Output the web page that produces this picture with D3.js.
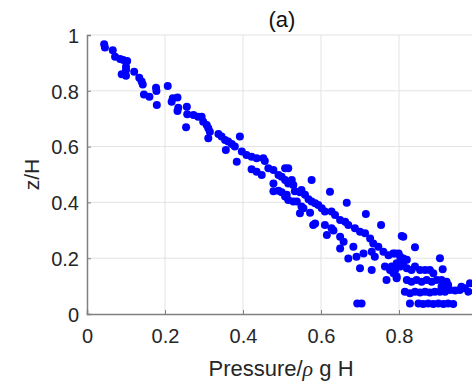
<!DOCTYPE html>
<html>
<head>
<meta charset="utf-8">
<script src="https://cdn.jsdelivr.net/npm/d3@7"></script>
<style>
  html, body { margin: 0; padding: 0; background: #fff; }
  svg { display: block; font-family: "Liberation Sans", Arial, sans-serif; }
</style>
</head>
<body>
<div id="chart"></div>
<script>
// tick values
const xTicks = [0, 0.2, 0.4, 0.6, 0.8, 1];
const yTicks = [0, 0.2, 0.4, 0.6, 0.8, 1];

// scatter points: [pressure/(rho g H), z/H]
const pressure = [
  0.044, 0.046, 0.066, 0.072, 0.085, 0.093, 0.103, 0.100, 0.100, 0.089, 0.100, 0.121, 0.134, 0.140, 0.143,
  0.146, 0.160, 0.177, 0.178, 0.207, 0.179, 0.220, 0.232, 0.217, 0.234, 0.232, 0.256, 0.257,
  0.273, 0.254, 0.285, 0.294, 0.298, 0.307, 0.311, 0.315, 0.311, 0.337, 0.345, 0.354, 0.362, 0.371, 0.379,
  0.392, 0.356, 0.384, 0.397, 0.409, 0.422, 0.435, 0.452, 0.422, 0.435, 0.448, 0.465, 0.478,
  0.456, 0.491, 0.499, 0.508, 0.516, 0.508, 0.516, 0.525, 0.529, 0.478, 0.491, 0.512, 0.529, 0.538,
  0.550, 0.559, 0.568, 0.576, 0.585, 0.593, 0.576, 0.623, 0.666, 0.555, 0.546, 0.572, 0.580,
  0.602, 0.610, 0.627, 0.636, 0.649, 0.662, 0.670, 0.610, 0.627,
  0.478, 0.499, 0.533, 0.546, 0.508, 0.516, 0.550, 0.585,
  0.715, 0.754, 0.632, 0.615, 0.649, 0.658, 0.649, 0.683, 0.709, 0.691, 0.670,
  0.687, 0.700, 0.713, 0.726, 0.734, 0.747, 0.760, 0.773, 0.785, 0.730,
  0.738, 0.700, 0.730, 0.768, 0.693, 0.704, 0.764, 0.777, 0.786, 0.794,
  0.807, 0.811, 0.841, 0.790, 0.799, 0.803, 0.811, 0.820, 0.781, 0.794, 0.790, 0.803, 0.811, 0.820,
  0.832, 0.841, 0.854, 0.867, 0.879, 0.888, 0.905, 0.912,
  0.794, 0.820, 0.832, 0.845, 0.858, 0.871, 0.884, 0.897, 0.909, 0.922, 0.926,
  0.815, 0.828, 0.841, 0.854, 0.867, 0.879, 0.892, 0.905, 0.918, 0.931, 0.944, 0.956, 0.969, 0.978,
  0.828, 0.850, 0.862, 0.875, 0.888, 0.901, 0.914, 0.926, 0.939,
  0.909, 0.922, 0.960, 0.982
];
const depth = [
  0.967, 0.955, 0.945, 0.922, 0.914, 0.910, 0.907, 0.886, 0.875, 0.859, 0.854, 0.868, 0.847, 0.833, 0.823,
  0.787, 0.779, 0.811, 0.799, 0.817, 0.749, 0.773, 0.776, 0.761, 0.739, 0.728, 0.743, 0.716,
  0.713, 0.669, 0.707, 0.707, 0.689, 0.677, 0.666, 0.653, 0.630, 0.645, 0.636, 0.624, 0.618, 0.609, 0.600,
  0.636, 0.588, 0.546, 0.582, 0.570, 0.564, 0.558, 0.558, 0.519, 0.510, 0.498, 0.522, 0.516,
  0.548, 0.498, 0.492, 0.480, 0.468, 0.522, 0.522, 0.480, 0.462, 0.468, 0.442, 0.427, 0.403, 0.403,
  0.444, 0.427, 0.411, 0.403, 0.397, 0.391, 0.480, 0.438, 0.399, 0.379, 0.361, 0.363, 0.319,
  0.379, 0.367, 0.367, 0.355, 0.337, 0.331, 0.319, 0.319, 0.307,
  0.440, 0.436, 0.440, 0.436, 0.421, 0.409, 0.385, 0.324,
  0.358, 0.319, 0.299, 0.283, 0.277, 0.259, 0.235, 0.241, 0.217, 0.205, 0.199,
  0.307, 0.295, 0.289, 0.271, 0.253, 0.241, 0.223, 0.211, 0.217, 0.223,
  0.205, 0.164, 0.158, 0.122, 0.038, 0.038, 0.170, 0.158, 0.146, 0.134,
  0.280, 0.277, 0.239, 0.217, 0.217, 0.205, 0.199, 0.194, 0.170, 0.182, 0.158, 0.170, 0.182, 0.164,
  0.158, 0.170, 0.158, 0.158, 0.158, 0.146, 0.200, 0.160,
  0.128, 0.122, 0.116, 0.122, 0.116, 0.122, 0.116, 0.122, 0.122, 0.116, 0.104,
  0.080, 0.074, 0.080, 0.077, 0.080, 0.077, 0.080, 0.080, 0.080, 0.086, 0.084, 0.086, 0.092, 0.080,
  0.038, 0.038, 0.036, 0.038, 0.036, 0.038, 0.036, 0.038, 0.036,
  0.098, 0.092, 0.098, 0.110
];

const width = 472, height = 386;
const margin = { top: 35, left: 87 };
const plotW = 390, plotH = 279;

const svg = d3.select('#chart').append('svg')
  .attr('width', width)
  .attr('height', height);

const x = d3.scaleLinear().domain([0, 1]).range([margin.left, margin.left + plotW]);
const y = d3.scaleLinear().domain([0, 1]).range([margin.top + plotH, margin.top]);

// grid
svg.append('g')
  .selectAll('line.vg')
  .data(xTicks.slice(1))
  .enter().append('line')
  .attr('x1', d => x(d)).attr('x2', d => x(d))
  .attr('y1', y(0)).attr('y2', y(1))
  .attr('stroke', '#e3e3e3').attr('stroke-width', 1);

svg.append('g')
  .selectAll('line.hg')
  .data(yTicks.slice(1))
  .enter().append('line')
  .attr('x1', x(0)).attr('x2', x(1))
  .attr('y1', d => y(d)).attr('y2', d => y(d))
  .attr('stroke', '#e3e3e3').attr('stroke-width', 1);

// axes
const xAxis = d3.axisBottom(x).tickValues(xTicks.slice(0, 5)).tickSize(-4).tickPadding(15)
  .tickFormat(d => d === 0 ? '0' : d3.format('.1f')(d));
const yAxis = d3.axisLeft(y).tickValues(yTicks).tickSize(-4).tickPadding(8)
  .tickFormat(d => (d === 0 || d === 1) ? String(d) : d3.format('.1f')(d));

const gx = svg.append('g').attr('transform', `translate(0,${y(0)})`).call(xAxis);
const gy = svg.append('g').attr('transform', `translate(${x(0)},0)`).call(yAxis);

[gx, gy].forEach(g => {
  g.select('.domain').attr('stroke', '#808080').attr('stroke-width', 1.5);
  g.selectAll('.tick line').attr('stroke', '#808080');
  g.selectAll('.tick text')
    .attr('fill', '#262626')
    .style('font-size', '20px')
    .style('font-family', '"Liberation Sans", Arial, sans-serif');
});
gy.selectAll('.tick text').attr('dy', '0.36em');

// points
const pts = pressure.map((p, i) => ({ p: p, z: depth[i] }));
svg.append('g')
  .selectAll('circle')
  .data(pts)
  .enter().append('circle')
  .attr('cx', d => x(d.p))
  .attr('cy', d => y(d.z))
  .attr('r', 4)
  .attr('fill', '#0000ff');

// title
svg.append('text')
  .attr('x', x(0.5)).attr('y', 27)
  .attr('text-anchor', 'middle')
  .style('font-size', '22px')
  .attr('fill', '#111')
  .text('(a)');

// x label
const xl = svg.append('text')
  .attr('x', x(0.5) - 1).attr('y', 376)
  .attr('text-anchor', 'middle')
  .style('font-size', '22px')
  .attr('fill', '#262626');
xl.append('tspan').text('Pressure/');
xl.append('tspan').style('font-style', 'italic').style('font-family', '"Liberation Serif", serif').text('ρ');
xl.append('tspan').text(' g H');

// y label
svg.append('text')
  .attr('transform', `translate(39,${y(0.5)}) rotate(-90)`)
  .attr('text-anchor', 'middle')
  .style('font-size', '21px')
  .attr('fill', '#262626')
  .text('z/H');
</script>
</body>
</html>
